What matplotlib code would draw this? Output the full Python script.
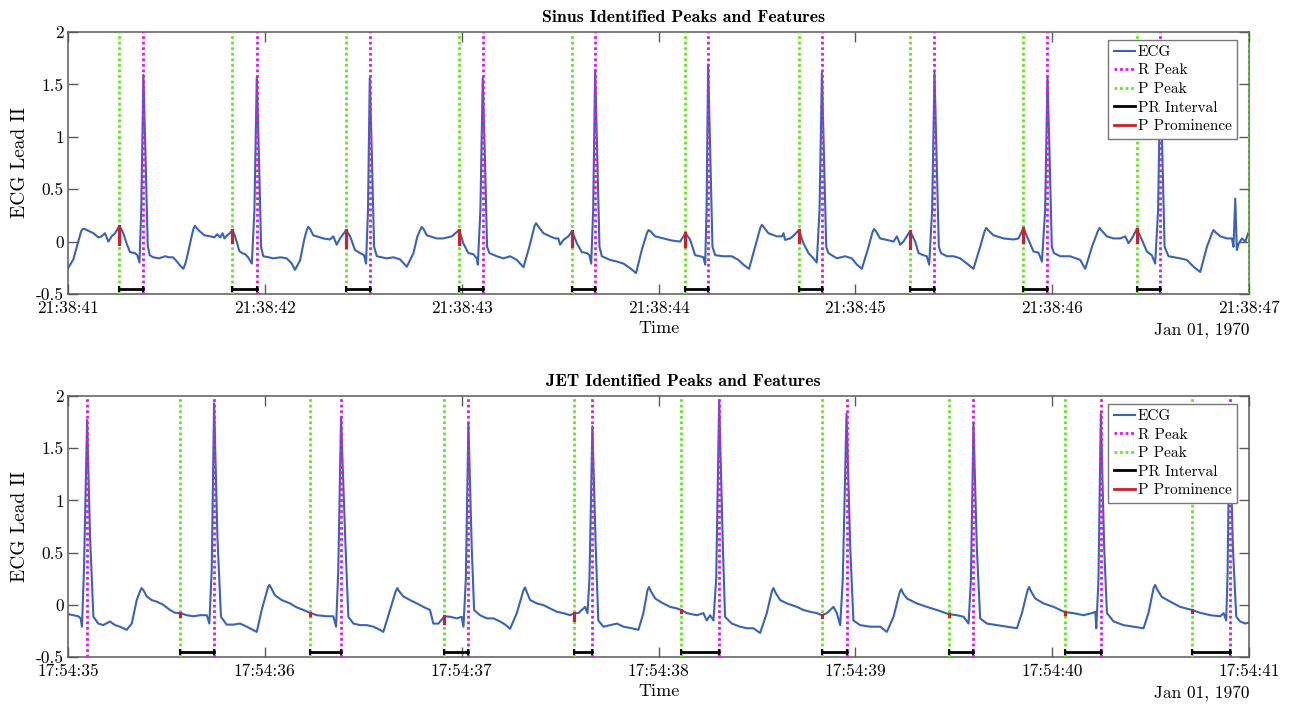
import matplotlib
matplotlib.use("Agg")
import matplotlib.pyplot as plt
from matplotlib.lines import Line2D

plt.rcParams['font.family'] = ['cmr10']
plt.rcParams['axes.unicode_minus'] = False
plt.rcParams['mathtext.fontset'] = 'cm'

# ---------------- Sinus (top) ----------------
sinus_tick_labels = ["21:38:41", "21:38:42", "21:38:43", "21:38:44", "21:38:45", "21:38:46", "21:38:47"]
sinus_ecg_points = [
    (0.000, -0.255), (0.027, -0.17), (0.052, 0.00), (0.067, 0.10), (0.075, 0.12), (0.084, 0.12),
    (0.095, 0.11), (0.129, 0.08),
    (0.154, 0.04), (0.171, 0.05), (0.188, 0.08), (0.205, 0.00), (0.222, 0.05), (0.239, 0.08),
    (0.261, 0.15), (0.281, 0.08), (0.298, -0.02), (0.315, -0.10), (0.340, -0.11), (0.352, -0.13),
    (0.363, -0.20), (0.372, 0.30), (0.383, 1.59),
    (0.394, 0.80), (0.405, -0.04), (0.415, -0.13), (0.433, -0.15), (0.463, -0.16), (0.493, -0.14),
    (0.513, -0.15), (0.533, -0.15), (0.553, -0.19), (0.570, -0.23), (0.586, -0.26), (0.598, -0.20),
    (0.613, -0.08), (0.628, 0.05), (0.637, 0.12), (0.645, 0.15), (0.653, 0.13), (0.668, 0.10),
    (0.693, 0.06), (0.723, 0.05),
    (0.743, 0.04), (0.758, 0.07), (0.773, 0.04), (0.785, 0.08), (0.795, 0.03), (0.808, 0.06),
    (0.822, 0.08), (0.835, 0.11), (0.847, 0.06), (0.860, -0.02), (0.870, -0.09), (0.885, -0.11),
    (0.900, -0.12), (0.915, -0.15), (0.934, -0.21), (0.947, 0.30), (0.959, 1.57),
    (0.970, 0.80), (0.981, -0.05), (0.992, -0.14), (1.020, -0.15), (1.043, -0.16), (1.080, -0.15),
    (1.111, -0.16), (1.137, -0.21),
    (1.153, -0.27), (1.179, -0.18), (1.200, 0.02), (1.213, 0.11), (1.221, 0.14), (1.230, 0.12),
    (1.246, 0.06), (1.297, 0.03), (1.331, 0.02),
    (1.348, 0.05), (1.365, -0.03), (1.382, 0.03), (1.413, 0.11), (1.433, 0.05), (1.458, -0.08),
    (1.484, -0.11), (1.504, -0.13), (1.514, -0.21), (1.524, 0.30), (1.533, 1.56),
    (1.544, 0.80), (1.555, -0.05), (1.569, -0.14), (1.619, -0.16), (1.653, -0.15), (1.687, -0.17),
    (1.721, -0.24), (1.755, -0.11), (1.775, 0.05), (1.789, 0.11), (1.797, 0.14), (1.806, 0.12),
    (1.823, 0.06), (1.873, 0.03), (1.907, 0.03),
    (1.950, 0.05), (1.987, 0.11), (2.009, -0.02), (2.034, -0.11), (2.059, -0.12), (2.077, -0.16),
    (2.082, -0.22), (2.095, 0.30), (2.107, 1.56),
    (2.118, 0.80), (2.129, -0.05), (2.141, -0.11), (2.178, -0.14), (2.212, -0.16), (2.246, -0.14),
    (2.280, -0.175), (2.314, -0.245), (2.348, -0.02), (2.370, 0.15), (2.378, 0.175), (2.387, 0.15),
    (2.415, 0.08), (2.449, 0.05),
    (2.475, 0.03), (2.491, 0.03), (2.500, -0.03), (2.517, 0.016), (2.542, 0.05), (2.561, 0.10),
    (2.585, -0.016), (2.610, -0.10), (2.636, -0.11), (2.649, -0.13), (2.658, -0.21), (2.668, 0.30),
    (2.678, 1.64),
    (2.689, 0.80), (2.700, -0.05), (2.712, -0.14), (2.754, -0.175), (2.788, -0.19), (2.822, -0.21),
    (2.856, -0.255), (2.886, -0.30), (2.915, -0.08), (2.941, 0.08), (2.949, 0.11), (2.958, 0.10),
    (2.983, 0.05), (3.025, 0.03),
    (3.068, 0.01), (3.110, 0.00), (3.127, 0.05), (3.137, 0.08), (3.161, 0.016), (3.186, -0.13),
    (3.211, -0.14), (3.228, -0.15), (3.237, -0.22), (3.244, 0.30), (3.252, 1.69),
    (3.263, 0.80), (3.274, -0.05), (3.288, -0.13), (3.330, -0.14), (3.372, -0.14), (3.406, -0.175),
    (3.431, -0.22), (3.460, -0.26), (3.491, -0.05), (3.517, 0.13), (3.525, 0.16), (3.534, 0.14),
    (3.558, 0.08), (3.601, 0.05),
    (3.627, 0.05), (3.635, 0.08), (3.643, 0.016), (3.669, 0.03), (3.694, 0.07), (3.713, 0.11),
    (3.736, -0.016), (3.762, -0.11), (3.787, -0.16), (3.804, -0.20), (3.818, 0.30), (3.830, 1.61),
    (3.841, 0.80), (3.852, -0.05), (3.863, -0.11), (3.906, -0.16), (3.948, -0.14), (3.982, -0.16),
    (4.008, -0.22), (4.033, -0.26), (4.067, -0.05), (4.087, 0.09), (4.095, 0.12), (4.104, 0.10),
    (4.126, 0.03), (4.160, 0.016),
    (4.194, 0.00), (4.211, 0.05), (4.228, -0.03), (4.244, 0.00), (4.278, 0.10), (4.304, 0.00),
    (4.321, -0.11), (4.346, -0.13), (4.363, -0.14), (4.375, -0.22), (4.390, 0.30), (4.402, 1.61),
    (4.413, 0.80), (4.424, -0.05), (4.435, -0.11), (4.465, -0.14), (4.499, -0.14), (4.533, -0.16),
    (4.567, -0.21), (4.600, -0.26), (4.634, -0.05), (4.657, 0.10), (4.665, 0.13), (4.674, 0.11),
    (4.702, 0.06), (4.753, 0.03),
    (4.803, 0.02), (4.829, 0.03), (4.854, 0.13), (4.880, 0.016), (4.905, -0.095), (4.930, -0.105),
    (4.948, -0.19), (4.964, 0.30), (4.976, 1.57),
    (4.987, 0.80), (4.998, -0.05), (5.009, -0.11), (5.041, -0.14), (5.091, -0.14), (5.142, -0.175),
    (5.168, -0.26), (5.202, -0.05), (5.232, 0.10), (5.240, 0.13), (5.249, 0.11), (5.278, 0.05),
    (5.312, 0.03), (5.346, 0.03),
    (5.371, 0.05), (5.388, -0.016), (5.405, 0.03), (5.430, 0.12), (5.456, 0.016), (5.481, -0.095),
    (5.506, -0.13), (5.523, -0.21), (5.538, 0.30), (5.549, 1.60),
    (5.560, 0.80), (5.571, -0.05), (5.591, -0.14), (5.650, -0.16), (5.684, -0.175), (5.718, -0.24),
    (5.752, -0.29), (5.786, -0.05), (5.812, 0.08), (5.820, 0.11), (5.829, 0.09), (5.854, 0.05),
    (5.888, 0.03), (5.913, 0.03),
    (5.921, -0.05), (5.930, 0.41), (5.938, -0.08), (5.947, -0.02), (5.964, 0.03), (5.981, 0.00),
    (6.000, 0.10),
]
sinus_r_time = [0.383, 0.959, 1.533, 2.107, 2.678, 3.252, 3.830, 4.402, 4.976, 5.549]
sinus_p_time = [0.261, 0.835, 1.413, 1.987, 2.561, 3.137, 3.713, 4.278, 4.854, 5.430, 5.998]
sinus_p_value = [0.15, 0.11, 0.11, 0.11, 0.10, 0.08, 0.11, 0.10, 0.13, 0.12]
sinus_p_prominence = [0.17, 0.11, 0.16, 0.13, 0.14, 0.12, 0.11, 0.16, 0.13, 0.12]

# ---------------- JET (bottom) ----------------
jet_tick_labels = ["17:54:35", "17:54:36", "17:54:37", "17:54:38", "17:54:39", "17:54:40", "17:54:41"]
jet_ecg_points = [
    (0.002, -0.09), (0.027, -0.10), (0.052, -0.11), (0.064, -0.13), (0.071, -0.21), (0.081, 0.33),
    (0.097, 1.77),
    (0.112, 0.65), (0.129, -0.115), (0.154, -0.18), (0.179, -0.195), (0.213, -0.16), (0.239, -0.195),
    (0.264, -0.21), (0.298, -0.24), (0.324, -0.18), (0.349, 0.045), (0.366, 0.13), (0.374, 0.16),
    (0.383, 0.14), (0.400, 0.08),
    (0.425, 0.045), (0.451, 0.03), (0.484, 0.00), (0.518, -0.05), (0.544, -0.077), (0.571, -0.08),
    (0.603, -0.10), (0.637, -0.11), (0.671, -0.10), (0.705, -0.10), (0.718, -0.18), (0.730, 0.33),
    (0.742, 1.93),
    (0.759, 0.65), (0.777, -0.115), (0.806, -0.19), (0.840, -0.19), (0.874, -0.18), (0.908, -0.21),
    (0.933, -0.235), (0.959, -0.26), (0.984, -0.05), (1.015, 0.16), (1.023, 0.19), (1.032, 0.16),
    (1.052, 0.09), (1.086, 0.045),
    (1.128, 0.013), (1.162, -0.025), (1.196, -0.05), (1.230, -0.077), (1.264, -0.10), (1.315, -0.11),
    (1.348, -0.11), (1.362, -0.21), (1.373, 0.33), (1.387, 1.79),
    (1.408, 0.65), (1.424, -0.115), (1.450, -0.18), (1.484, -0.195), (1.518, -0.195), (1.551, -0.21),
    (1.585, -0.24), (1.602, -0.26), (1.636, -0.05), (1.665, 0.13), (1.673, 0.16), (1.682, 0.13),
    (1.704, 0.08), (1.738, 0.045),
    (1.772, 0.013), (1.805, -0.02), (1.839, -0.05), (1.856, -0.18), (1.882, -0.18), (1.912, -0.11),
    (1.941, -0.115), (1.975, -0.13), (2.000, -0.115), (2.009, -0.21), (2.021, 0.24), (2.034, 1.74),
    (2.051, 0.55), (2.063, -0.05), (2.093, -0.10), (2.128, -0.13), (2.161, -0.13), (2.195, -0.16),
    (2.221, -0.19), (2.246, -0.23), (2.280, -0.08), (2.314, 0.14), (2.322, 0.166), (2.331, 0.12),
    (2.348, 0.045), (2.382, 0.013),
    (2.415, -0.003), (2.449, -0.035), (2.483, -0.067), (2.517, -0.08), (2.551, -0.10), (2.571, -0.08),
    (2.593, -0.08), (2.610, -0.05), (2.627, -0.02), (2.639, -0.08), (2.649, 0.24), (2.664, 1.71),
    (2.681, 0.55), (2.694, -0.15), (2.720, -0.21), (2.754, -0.195), (2.788, -0.18), (2.822, -0.21),
    (2.864, -0.225), (2.898, -0.24), (2.923, -0.08), (2.944, 0.14), (2.952, 0.17), (2.961, 0.13),
    (2.983, 0.06), (3.017, 0.02),
    (3.059, -0.02), (3.093, -0.035), (3.115, -0.05), (3.144, -0.08), (3.195, -0.10), (3.228, -0.08),
    (3.245, -0.15), (3.262, -0.10), (3.279, -0.15), (3.293, 0.25), (3.308, 1.96),
    (3.327, 0.55), (3.338, -0.115), (3.372, -0.18), (3.415, -0.21), (3.449, -0.225), (3.482, -0.225),
    (3.516, -0.27), (3.550, -0.08), (3.576, 0.13), (3.584, 0.16), (3.593, 0.12), (3.618, 0.045),
    (3.652, 0.013), (3.703, -0.02),
    (3.736, -0.05), (3.770, -0.067), (3.804, -0.08), (3.831, -0.10), (3.855, -0.08), (3.889, -0.02),
    (3.906, -0.08), (3.923, -0.195), (3.936, 0.24), (3.955, 1.83),
    (3.974, 0.55), (3.990, -0.15), (4.024, -0.195), (4.075, -0.21), (4.126, -0.21), (4.160, -0.26),
    (4.194, -0.115), (4.225, 0.12), (4.233, 0.15), (4.242, 0.11), (4.262, 0.06), (4.312, 0.013),
    (4.363, -0.02), (4.414, -0.05),
    (4.475, -0.09), (4.516, -0.10), (4.550, -0.115), (4.575, -0.18), (4.587, 0.24), (4.600, 1.74),
    (4.617, 0.55), (4.634, -0.13), (4.668, -0.18), (4.719, -0.195), (4.770, -0.21), (4.821, -0.225),
    (4.846, -0.08), (4.875, 0.14), (4.883, 0.17), (4.892, 0.13), (4.914, 0.06), (4.956, 0.013),
    (5.007, -0.02), (5.064, -0.07),
    (5.108, -0.08), (5.159, -0.10), (5.202, -0.08), (5.219, -0.067), (5.224, -0.225), (5.235, 0.24),
    (5.247, 1.83),
    (5.264, 0.55), (5.278, -0.08), (5.312, -0.16), (5.362, -0.195), (5.413, -0.21), (5.464, -0.225),
    (5.489, -0.08), (5.515, 0.16), (5.523, 0.19), (5.532, 0.15), (5.557, 0.075), (5.600, 0.03),
    (5.650, -0.02), (5.710, -0.05),
    (5.752, -0.077), (5.803, -0.10), (5.854, -0.11), (5.871, -0.08), (5.884, -0.15), (5.891, 0.30),
    (5.901, 1.80),
    (5.918, 0.55), (5.935, -0.115), (5.955, -0.16), (5.981, -0.18), (6.000, -0.17),
]
jet_r_time = [0.097, 0.742, 1.387, 2.034, 2.664, 3.308, 3.955, 4.600, 5.247, 5.901]
jet_p_time = [0.571, 1.230, 1.912, 2.571, 3.115, 3.831, 4.475, 5.064, 5.710]
jet_p_value = [-0.08, -0.077, -0.11, -0.08, -0.05, -0.10, -0.09, -0.07, -0.05]
jet_p_prominence = [0.03, 0.02, 0.06, 0.07, 0.02, 0.02, 0.02, 0.02, 0.02]

pr_level = -0.45
x_ticks = [0, 1, 2, 3, 4, 5, 6]
y_ticks = [-0.5, 0, 0.5, 1, 1.5, 2]
y_tick_labels = ["-0.5", "0", "0.5", "1", "1.5", "2"]
date_label = "Jan 01, 1970"

C_ECG = '#3A62B6'
C_R = '#D91BE6'
C_P = '#66E622'
C_PR = '#000000'
C_PROM = '#C8232B'
C_AX = '#5a5a5a'

fig = plt.figure(figsize=(12.93, 7.04), dpi=100)
ax_top = fig.add_axes([0.0526, 0.5824, 0.9134, 0.3722])
ax_bot = fig.add_axes([0.0526, 0.0668, 0.9134, 0.3707])


def draw(ax, points, r_times, p_times, p_vals, p_prom, title, tick_labels):
    t = [p[0] for p in points]
    v = [p[1] for p in points]
    ax.plot(t, v, color=C_ECG, lw=1.5, zorder=2)
    for rt in r_times:
        ax.axvline(rt, color=C_R, lw=2.0, ls=(0, (1, 1)), zorder=3)
    for pt in p_times:
        ax.axvline(pt, color=C_P, lw=2.0, ls=(0, (1, 1)), zorder=3)
    # PR intervals: from each P peak to the next R peak
    for pt in p_times:
        nxt = [rt for rt in r_times if rt > pt]
        if nxt:
            ax.plot([pt, nxt[0]], [pr_level, pr_level], color=C_PR, lw=2.0,
                    marker='|', ms=5, mew=1.5, zorder=4, clip_on=False)
    # P prominence bars
    for pt, pv, pp in zip(p_times, p_vals, p_prom):
        ax.plot([pt, pt], [pv - pp, pv], color=C_PROM, lw=2.3, zorder=5)

    ax.set_xlim(0, 6)
    ax.set_ylim(-0.5, 2)
    ax.set_xticks(x_ticks)
    ax.set_xticklabels(tick_labels, fontsize=12.5)
    ax.set_yticks(y_ticks)
    ax.set_yticklabels(y_tick_labels, fontsize=12.5)
    ax.tick_params(direction='in', length=7, width=1.0, color=C_AX, top=True, right=True)
    ax.tick_params(axis='x', pad=5)
    ax.tick_params(axis='y', pad=3)
    for s in ax.spines.values():
        s.set_color(C_AX)
        s.set_linewidth(1.1)
    ax.set_title(title, fontsize=12.8, family='cmb10', pad=7, x=0.521)
    ax.set_xlabel('Time', fontsize=13, labelpad=3)
    ax.set_ylabel('ECG Lead II', fontsize=14, labelpad=5)
    ax.text(1.0, -0.137, date_label, transform=ax.transAxes, ha='right', va='center', fontsize=12.5)

    handles = [
        Line2D([], [], color=C_ECG, lw=1.5),
        Line2D([], [], color=C_R, lw=2.0, ls=(0, (1, 1))),
        Line2D([], [], color=C_P, lw=2.0, ls=(0, (1, 1))),
        Line2D([], [], color=C_PR, lw=2.0),
        Line2D([], [], color=C_PROM, lw=2.0),
    ]
    labels = ['ECG', 'R Peak', 'P Peak', 'PR Interval', 'P Prominence']
    leg = ax.legend(handles, labels, loc='upper right', bbox_to_anchor=(0.99, 0.97),
                    borderaxespad=0, fontsize=11, handlelength=1.4, handletextpad=0.2,
                    labelspacing=0.32, borderpad=0.35, fancybox=False, framealpha=1,
                    edgecolor='#777777')
    leg.get_frame().set_linewidth(1.0)


draw(ax_top, sinus_ecg_points, sinus_r_time, sinus_p_time, sinus_p_value, sinus_p_prominence,
     'Sinus Identified Peaks and Features', sinus_tick_labels)
draw(ax_bot, jet_ecg_points, jet_r_time, jet_p_time, jet_p_value, jet_p_prominence,
     'JET Identified Peaks and Features', jet_tick_labels)

fig.savefig('out.png', dpi=100)
